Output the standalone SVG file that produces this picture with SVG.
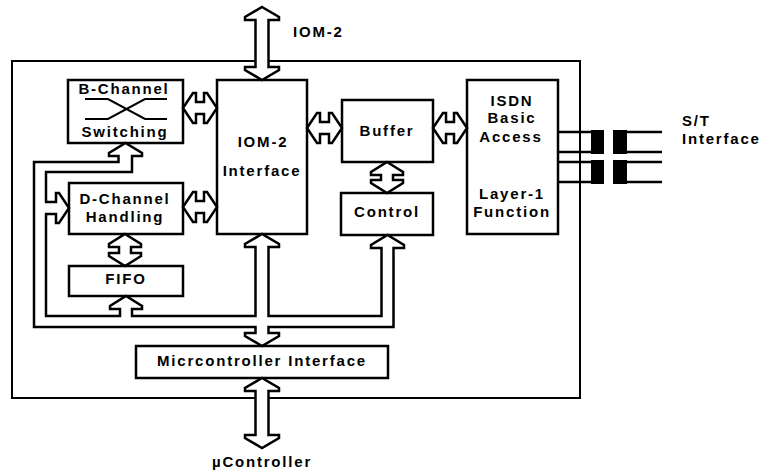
<svg xmlns="http://www.w3.org/2000/svg" width="761" height="471" viewBox="0 0 761 471">
<style>
.bg{fill:#fff}
.box{fill:#fff;stroke:#000;stroke-width:2.5}
.outer{fill:none;stroke:#000;stroke-width:2}
.arr{fill:#fff;stroke:#000;stroke-width:2.5;stroke-linejoin:miter}
.ln{fill:none;stroke:#000;stroke-width:2.5}
.blk{fill:#000}
text{font-family:"Liberation Sans",Arial,sans-serif;font-weight:bold;font-size:15px;letter-spacing:1.8px;fill:#000}
.c{text-anchor:middle}
</style>
<rect class="bg" x="0" y="0" width="761" height="471"/>
<g id="chip">
<rect class="outer" x="12" y="61" width="568" height="337"/>
</g>
<g id="b-channel">
<rect class="box" x="68" y="80" width="115" height="63"/>
<text class="c" x="124" y="94">B-Channel</text>
<text class="c" x="125" y="137">Switching</text>
<path class="ln" style="stroke-width:2" d="M85,99 L108,99 L145,119 L167,119 M85,119 L108,119 L145,99 L167,99"/>
</g>
<g id="iom2-interface">
<rect class="box" x="217" y="80" width="90" height="154"/>
<text class="c" x="263" y="147">IOM-2</text>
<text class="c" x="262" y="176">Interface</text>
</g>
<g id="d-channel">
<rect class="box" x="69" y="183" width="114" height="51"/>
<text class="c" x="125" y="204">D-Channel</text>
<text class="c" x="125" y="222">Handling</text>
</g>
<g id="fifo">
<rect class="box" x="69" y="266" width="114" height="30"/>
<text class="c" x="126" y="284">FIFO</text>
</g>
<g id="buffer">
<rect class="box" x="342" y="100" width="91" height="62"/>
<text class="c" x="387" y="136">Buffer</text>
</g>
<g id="control">
<rect class="box" x="341" y="193" width="92" height="42"/>
<text class="c" x="387" y="217">Control</text>
</g>
<g id="isdn">
<rect class="box" x="467" y="80" width="91" height="154"/>
<text class="c" x="512" y="106">ISDN</text>
<text class="c" x="512" y="123">Basic</text>
<text class="c" x="511" y="142">Access</text>
<text class="c" x="512" y="199">Layer-1</text>
<text class="c" x="512" y="217">Function</text>
</g>
<g id="mc-interface">
<rect class="box" x="136" y="346" width="252" height="32"/>
<text class="c" x="262" y="366">Micrcontroller Interface</text>
</g>
<g id="st-interface">
<path class="ln" style="stroke-width:2.5" d="M558,132 H592 M558,152 H592 M558,162 H592 M558,182 H592 M627,132 H662 M627,152 H662 M627,162 H662 M627,182 H662"/>
<rect class="blk" x="591" y="130" width="13" height="24"/>
<rect class="blk" x="591" y="160" width="13" height="24"/>
<rect class="blk" x="613" y="130" width="14" height="24"/>
<rect class="blk" x="613" y="160" width="14" height="24"/>
<text x="682" y="126">S/T</text>
<text x="682" y="144">Interface</text>
</g>
<g id="labels">
<text x="293" y="37">IOM-2</text>
<text class="c" x="262" y="467">µController</text>
</g>
<g id="connectors">
<path class="arr" d="M34,327 L34,162 L118.5,162 L118.5,156 L109,156 L109,153 L125.5,143 L142,153 L142,156 L132,156 L132,172 L46,172 L46,202 L56,202 L56,193 L59,193 L69,208 L59,223 L56,223 L56,214 L46,214 L46,316 L120,316 L120,309 L110,309 L110,306 L126,296 L142,306 L142,309 L132,309 L132,316 L255.5,316 L255.5,247 L245,247 L245,244 L262,234 L279,244 L279,247 L268.5,247 L268.5,316 L381.5,316 L381.5,248 L371,248 L371,245 L387.5,235 L404,245 L404,248 L393.5,248 L393.5,327 L268.5,327 L268.5,333 L279,333 L279,336 L262,346 L245,336 L245,333 L255.5,333 L255.5,327 Z"/>
<path class="arr" d="M262,7 L279,17 L279,20 L268.5,20 L268.5,67 L279,67 L279,70 L262,80 L245,70 L245,67 L255.5,67 L255.5,20 L245,20 L245,17 Z"/>
<path class="arr" d="M262,378 L279,388 L279,391 L268.5,391 L268.5,435 L279,435 L279,438 L262,448 L245,438 L245,435 L255.5,435 L255.5,391 L245,391 L245,388 Z"/>
<path class="arr" d="M125,234 L141,244 L141,247 L131,247 L131,253 L141,253 L141,256 L125,266 L109,256 L109,253 L119,253 L119,247 L109,247 L109,244 Z"/>
<path class="arr" d="M387,162 L403,172 L403,175 L393,175 L393,180 L403,180 L403,183 L387,193 L371,183 L371,180 L381,180 L381,175 L371,175 L371,172 Z"/>
<path class="arr" d="M183,108 L193,93 L196,93 L196,102 L204,102 L204,93 L207,93 L217,108 L207,123 L204,123 L204,114 L196,114 L196,123 L193,123 Z"/>
<path class="arr" d="M183,207 L193,192 L196,192 L196,201 L204,201 L204,192 L207,192 L217,207 L207,222 L204,222 L204,213 L196,213 L196,222 L193,222 Z"/>
<path class="arr" d="M307,128 L317,113 L320,113 L320,122 L329,122 L329,113 L332,113 L342,128 L332,143 L329,143 L329,134 L320,134 L320,143 L317,143 Z"/>
<path class="arr" d="M433,128 L443,113 L446,113 L446,122 L454,122 L454,113 L457,113 L467,128 L457,143 L454,143 L454,134 L446,134 L446,143 L443,143 Z"/>
</g>
</svg>
